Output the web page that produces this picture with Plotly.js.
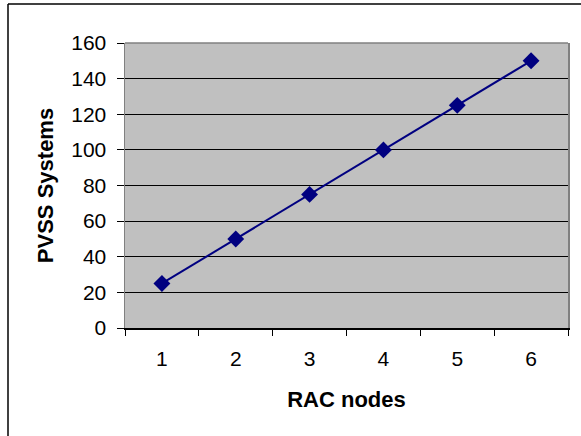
<!DOCTYPE html>
<html><head><meta charset="utf-8">
<script src="https://cdn.plot.ly/plotly-3.0.1.min.js"></script>
<style>html,body{margin:0;padding:0;background:#fff;}#chart{width:581px;height:436px;}</style>
</head><body><div id="chart"></div>
<script>
var categories = ['1','2','3','4','5','6'];
var pvssSystems = [25, 50, 75, 100, 125, 150];
var yTicks = [0,20,40,60,80,100,120,140,160];

var W = 581, H = 436, L = 125, R = 13, T = 43, B = 108;
var pw = W - L - R, ph = H - T - B;
function px(x){ return (x - L) / pw; }
function py(y){ return (H - B - y) / ph; }

var trace = {
  x: categories, y: pvssSystems, type: 'scatter', mode: 'lines+markers',
  line: {color: '#000080', width: 2},
  marker: {symbol: 'diamond', size: 13, color: '#000080'},
  cliponaxis: false, hoverinfo: 'none'
};
var layout = {
  width: W, height: H, margin: {l: L, r: R, t: T, b: B},
  paper_bgcolor: '#ffffff', plot_bgcolor: '#c0c0c0',
  font: {family: 'Liberation Sans, Arial, sans-serif', color: '#000', size: 21},
  showlegend: false,
  xaxis: {
    type: 'category', categoryorder: 'array', categoryarray: categories,
    range: [-0.5, 5.5], tickson: 'boundaries', ticks: 'outside', ticklen: 6, tickcolor: '#000',
    showgrid: false, showline: true, linecolor: '#000', linewidth: 1.5, zeroline: false,
    tickfont: {size: 21}, ticklabelstandoff: 11,
    title: {text: '<b>RAC nodes</b>', font: {size: 22}, standoff: 23}
  },
  yaxis: {
    range: [0, 160], tickmode: 'array', tickvals: yTicks, ticktext: yTicks.map(String),
    ticks: 'outside', ticklen: 7, tickcolor: '#000',
    showgrid: true, gridcolor: '#000', gridwidth: 1, zeroline: false,
    showline: true, linecolor: '#808080', linewidth: 1.5, mirror: true,
    tickfont: {size: 21}, ticklabelstandoff: 6,
    title: {text: '<b>PVSS Systems</b>', font: {size: 22}, standoff: 11}
  },
  shapes: [
    {type: 'line', xref: 'paper', yref: 'paper', x0: 0, x1: 1, y0: 1, y1: 1, line: {color: '#808080', width: 1.5}, layer: 'above'},
    {type: 'line', xref: 'paper', yref: 'paper', x0: px(8), x1: px(8), y0: py(4), y1: py(440), line: {color: '#000', width: 1.5}},
    {type: 'line', xref: 'paper', yref: 'paper', x0: px(8), x1: px(590), y0: py(4), y1: py(4), line: {color: '#000', width: 1.5}}
  ]
};
Plotly.newPlot('chart', [trace], layout, {staticPlot: true, displayModeBar: false});
</script></body></html>
